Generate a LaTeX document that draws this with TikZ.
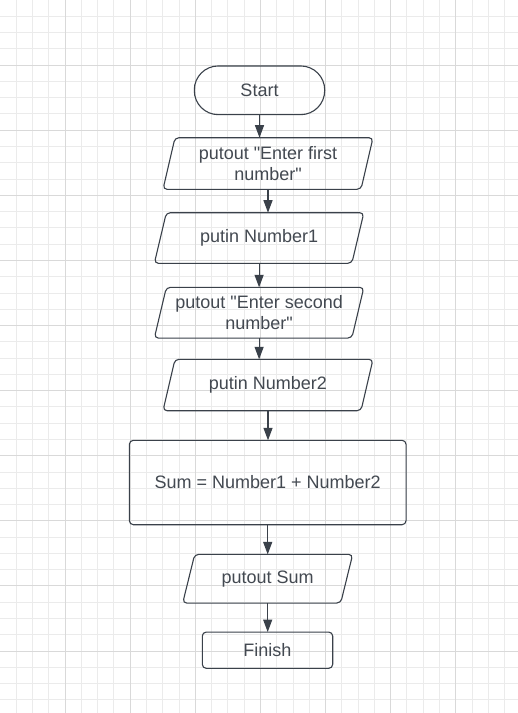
\documentclass[tikz,border=0pt]{standalone}
\usepackage{fontspec}
\setmainfont{Liberation Sans}[Ligatures=TeXOff]
\usetikzlibrary{arrows.meta}
\definecolor{ink}{HTML}{3A414A}
\definecolor{txt}{HTML}{434951}
\definecolor{gminor}{HTML}{EBEBEB}
\definecolor{gmajor}{HTML}{D9D9D9}
\begin{document}
\begin{tikzpicture}[x=1pt,y=-1pt,
  lbl/.style={font=\fontsize{18}{20.7}\selectfont, text=txt, align=center, inner sep=0pt, outer sep=0pt},
  box/.style={lbl, draw=ink, line width=1.1pt, rounded corners=4pt},
  term/.style={lbl, draw=ink, line width=1.1pt, rounded corners=24pt},
  shp/.style={draw=ink, line width=1.1pt, rounded corners=4pt},
  arr/.style={draw=ink, line width=1.2pt, -{Triangle[length=12.5pt,width=9pt]}},
  gmin/.style={draw=gminor, line width=0.9pt},
  gmaj/.style={draw=gmajor, line width=0.9pt}]
\useasboundingbox (0,0) rectangle (518,713);
\fill[white] (0,0) rectangle (518,713);
% grid
\foreach \i in {1,...,31} {\draw[gmin] (\i*16.275,0) -- (\i*16.275,713);}
\foreach \j in {1,...,43} {\draw[gmin] (0,\j*16.275) -- (518,\j*16.275);}
\foreach \i in {1,...,7} {\draw[gmaj] (\i*65.1,0) -- (\i*65.1,713);}
\foreach \j in {1,...,10} {\draw[gmaj] (0,\j*65.1) -- (518,\j*65.1);}
% nodes
\node[term, minimum width=130.4pt, minimum height=48.7pt] (start) at (259.5,90.3) {Start};
\node[lbl, minimum width=198pt, minimum height=51.6pt] (p1) at (268,163.5) {putout "Enter first\\number"};
\node[lbl, minimum width=197.5pt, minimum height=50.6pt] (p2) at (259.1,238) {putin Number1};
\node[lbl, minimum width=197.5pt, minimum height=50.7pt] (p3) at (259.1,312.7) {putout "Enter second\\number"};
\node[lbl, minimum width=198pt, minimum height=51.4pt] (p4) at (268,385) {putin Number2};
\node[box, minimum width=276.7pt, minimum height=84.4pt] (sum) at (267.7,482.5) {Sum = Number1 + Number2};
\node[lbl, minimum width=158pt, minimum height=48.7pt] (p5) at (267.7,578.7) {putout Sum};
\node[box, minimum width=130.4pt, minimum height=36.3pt] (fin) at (267.5,650.2) {Finish};
% parallelogram outlines
\foreach \n in {p1,p2,p3,p4,p5} {
  \draw[shp] ([xshift=6pt]\n.north west) -- ([xshift=6pt]\n.north east) -- ([xshift=-6pt]\n.south east) -- ([xshift=-6pt]\n.south west) -- cycle;
}
% connectors
\draw[arr] (start.south) -- (start.south |- p1.north);
\draw[arr] (p1.south) -- (p1.south |- p2.north);
\draw[arr] (p2.south) -- (p2.south |- p3.north);
\draw[arr] (p3.south) -- (p3.south |- p4.north);
\draw[arr] (p4.south) -- (p4.south |- sum.north);
\draw[arr] (sum.south) -- (sum.south |- p5.north);
\draw[arr] (p5.south) -- (p5.south |- fin.north);
\end{tikzpicture}
\end{document}
